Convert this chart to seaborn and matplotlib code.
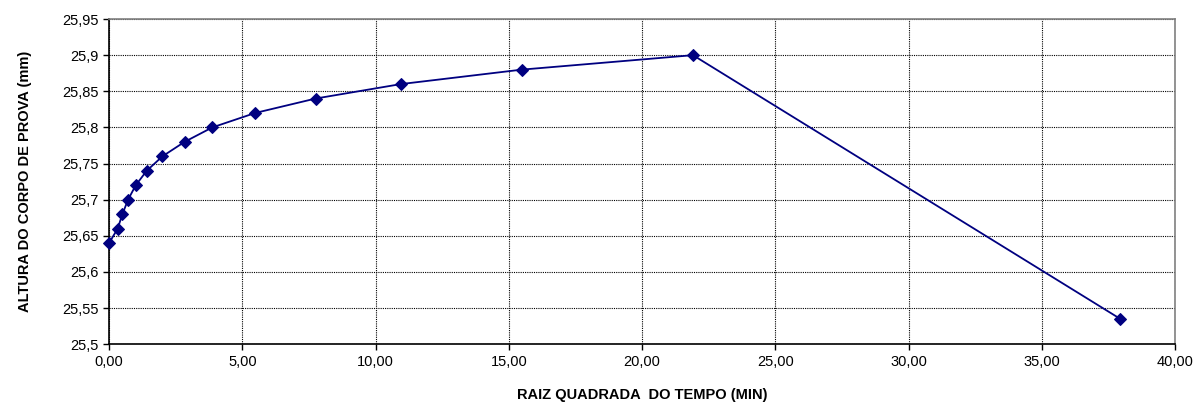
import numpy as np
import pandas as pd
import matplotlib
matplotlib.use('Agg')
import matplotlib.pyplot as plt
import seaborn as sns
from matplotlib.ticker import FuncFormatter, MultipleLocator

# elapsed time (min) and its square root
tempo_min = [0, 0.1, 0.25, 0.5, 1, 2, 4, 8, 15, 30, 60, 120, 240, 480, 1440]
raiz_tempo = [0.00, 0.32, 0.50, 0.71, 1.00, 1.41, 2.00, 2.83, 3.87, 5.48,
              7.75, 10.95, 15.49, 21.91, 37.95]
altura_mm = [25.64, 25.66, 25.68, 25.70, 25.72, 25.74, 25.76, 25.78, 25.80,
             25.82, 25.84, 25.86, 25.88, 25.90, 25.535]

df = pd.DataFrame({'raiz': raiz_tempo, 'altura': altura_mm})

sns.set_style('white')
plt.rcParams['font.family'] = ['Liberation Sans', 'DejaVu Sans']
plt.rcParams['text.color'] = 'black'
plt.rcParams['axes.labelcolor'] = 'black'
plt.rcParams['xtick.color'] = 'black'
plt.rcParams['ytick.color'] = 'black'

fig, ax = plt.subplots(figsize=(11.99, 4.05), dpi=100)
fig.subplots_adjust(left=0.091, right=0.98, top=0.953, bottom=0.15)

sns.lineplot(data=df, x='raiz', y='altura', ax=ax, color='#000080',
             marker='D', markersize=6.5, markeredgecolor='#000080',
             linewidth=1.3, sort=False, clip_on=False, zorder=5)

ax.set_xlim(0, 40)
ax.set_ylim(25.5, 25.95)
ax.xaxis.set_major_locator(MultipleLocator(5))
ax.yaxis.set_major_locator(MultipleLocator(0.05))

def fmt_x(v, pos):
    return f'{v:.2f}'.replace('.', ',')

def fmt_y(v, pos):
    s = f'{v:.2f}'.rstrip('0').rstrip('.')
    return s.replace('.', ',')

ax.xaxis.set_major_formatter(FuncFormatter(fmt_x))
ax.yaxis.set_major_formatter(FuncFormatter(fmt_y))

ax.grid(True, color='black', linestyle=(0, (1, 1)), linewidth=0.8)
ax.set_axisbelow(True)

for side in ['left', 'bottom']:
    ax.spines[side].set_color('black')
    ax.spines[side].set_linewidth(1.2)
for side in ['top', 'right']:
    ax.spines[side].set_color('#808080')
    ax.spines[side].set_linewidth(1.2)

ax.tick_params(axis='both', direction='out', length=4, width=1,
               labelsize=10.5, color='black', labelcolor='black',
               bottom=True, left=True)

ax.set_xlabel('RAIZ QUADRADA  DO TEMPO (MIN)', fontsize=10.5,
              fontweight='bold', labelpad=14)
ax.set_ylabel('ALTURA DO CORPO DE PROVA (mm)', fontsize=10.5,
              fontweight='bold', labelpad=22)

plt.savefig('out.png', dpi=100)
